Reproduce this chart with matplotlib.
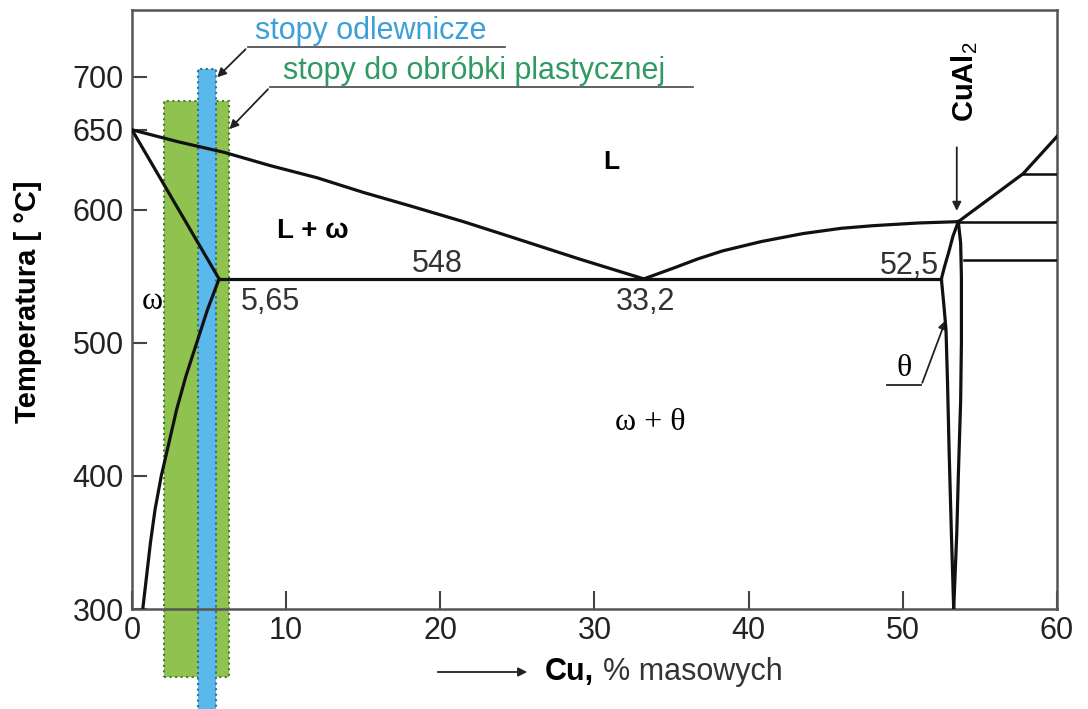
import matplotlib
matplotlib.use("Agg")
import matplotlib.pyplot as plt
from matplotlib.patches import Rectangle

plt.rcParams['font.family'] = ['Liberation Sans', 'DejaVu Sans']
plt.rcParams['mathtext.fontset'] = 'custom'
plt.rcParams['mathtext.rm'] = 'Liberation Sans'
plt.rcParams['mathtext.bf'] = 'Liberation Sans:bold'

# granice faz (Cu % mas., temperatura)
liq_left_x = [0, 3, 6, 9, 12, 15, 18, 21.5, 25, 29, 33.2]
liq_left_t = [660, 651, 643, 633, 624, 613, 603, 591, 578, 563, 548]
liq_right_x = [33.2, 35.1, 36.7, 38.3, 40.8, 43.5, 46.0, 48.1, 51.0, 53.6]
liq_right_t = [548, 556, 563, 569, 576, 582, 586, 588, 590, 591]
solidus_x = [0, 5.65]
solidus_t = [660, 548]
solvus_x = [5.65, 4.9, 4.2, 3.5, 2.9, 2.4, 1.9, 1.5, 1.2, 0.95, 0.7]
solvus_t = [548, 525, 500, 475, 450, 425, 400, 375, 350, 325, 300]
eutectic_x = [5.65, 52.5]
eutectic_t = [548, 548]
theta_left_x = [53.6, 53.25, 53.0, 52.7, 52.5, 52.65, 52.8, 52.9, 53.0, 53.15, 53.3]
theta_left_t = [591, 580, 569, 557, 548, 530, 510, 470, 420, 357, 300]
theta_right_x = [53.6, 53.75, 53.8, 53.8, 53.75, 53.6, 53.5, 53.3]
theta_right_t = [591, 575, 550, 500, 456, 400, 357, 300]
upper_x = [53.6, 57.8, 60]
upper_t = [591, 627, 655]
hlines_t = [627, 591, 562]
hlines_x0 = [57.8, 53.6, 54.0]

# zakresy stopow
green_x = (2.1, 6.3)
green_t = (249, 682)
blue_x = (4.3, 5.45)
blue_t = (190, 706)

yticks = [300, 400, 500, 600, 660, 700]
yticklabels = ['300', '400', '500', '600', '650', '700']
xticks = [0, 10, 20, 30, 40, 50, 60]

fig = plt.figure(figsize=(10.88, 7.09), dpi=100)
ax = fig.add_axes([0.1213, 0.141, 0.8502, 0.8449])
ax.set_xlim(0, 60)
ax.set_ylim(300, 750)

ax.add_patch(Rectangle((green_x[0], green_t[0]), green_x[1] - green_x[0], green_t[1] - green_t[0],
                       facecolor='#8fc24f', edgecolor='#3f7f2f', linestyle=':', lw=1.5,
                       clip_on=False, zorder=1))
ax.add_patch(Rectangle((blue_x[0], blue_t[0]), blue_x[1] - blue_x[0], blue_t[1] - blue_t[0],
                       facecolor='#5ab8ea', edgecolor='#2d6f8f', linestyle=':', lw=1.5,
                       clip_on=False, zorder=2))

lw = 2.3
c = '#111111'
for xs, ts in [(liq_left_x, liq_left_t), (liq_right_x, liq_right_t), (solidus_x, solidus_t),
               (solvus_x, solvus_t), (eutectic_x, eutectic_t), (theta_left_x, theta_left_t),
               (theta_right_x, theta_right_t), (upper_x, upper_t)]:
    ax.plot(xs, ts, color=c, lw=lw, zorder=5, solid_joinstyle='round')
for t, x0 in zip(hlines_t, hlines_x0):
    ax.plot([x0, 60], [t, t], color=c, lw=lw * 0.8, zorder=5)

ax.set_xticks(xticks)
ax.set_yticks(yticks)
ax.set_yticklabels(yticklabels)
ax.tick_params(direction='in', labelsize=22, width=1.5, color='#444444',
               labelcolor='#222222', pad=5)
ax.tick_params(axis='x', length=13)
ax.tick_params(axis='y', length=11, pad=6)
for s in ax.spines.values():
    s.set_linewidth(1.8)
    s.set_color('#555555')

# napisy w polach
ax.text(31.1, 636, 'L', fontsize=19, fontweight='bold', ha='center', va='center')
ax.text(11.7, 584, 'L + ω', fontsize=20, fontweight='bold', ha='center', va='center')
ax.text(19.8, 559, '548', fontsize=22, color='#333333', ha='center', va='center')
ax.text(8.95, 531, '5,65', fontsize=22, color='#333333', ha='center', va='center')
ax.text(33.3, 531, '33,2', fontsize=22, color='#333333', ha='center', va='center')
ax.text(50.45, 558, '52,5', fontsize=22, color='#333333', ha='center', va='center')
ax.text(1.3, 531, 'ω', fontsize=23, family='Liberation Serif', ha='center', va='center')
ax.text(33.6, 440, 'ω + θ', fontsize=23, family='Liberation Serif', ha='center', va='center')
ax.text(50.1, 481, 'θ', fontsize=23, family='Liberation Serif', ha='center', va='center')
ax.text(54.0, 696, 'CuAl$_2$', fontsize=21, fontweight='bold', rotation=90,
        ha='center', va='center')

arrow = dict(arrowstyle='-|>', color='#222222', lw=1.3, mutation_scale=13)
ax.annotate('', xy=(53.5, 597), xytext=(53.5, 649), arrowprops=arrow)
ax.plot([49.0, 51.2], [468, 468], color='#222222', lw=1.3)
ax.annotate('', xy=(52.85, 519), xytext=(51.2, 468), arrowprops=arrow)

# opisy stopow
ax.text(7.98, 734, 'stopy odlewnicze', fontsize=22, color='#3d9fd8', ha='left', va='center')
ax.plot([7.5, 24.2], [722, 722], color='#555555', lw=1.3, clip_on=False)
ax.annotate('', xy=(5.4, 698), xytext=(7.5, 722), arrowprops=arrow, annotation_clip=False)
ax.text(9.79, 704, 'stopy do obróbki plastycznej', fontsize=22, color='#2f9a62',
        ha='left', va='center')
ax.plot([8.95, 36.4], [692, 692], color='#555555', lw=1.3, clip_on=False)
ax.annotate('', xy=(6.2, 659), xytext=(8.95, 692), arrowprops=arrow, annotation_clip=False)

# opisy osi
fig.text(28 / 1088, 1 - 302 / 709, 'Temperatura [ °C]', rotation=90, fontsize=21,
         fontweight='bold', ha='center', va='center')
ax.annotate('', xy=(530, 37), xytext=(435, 37), xycoords='figure pixels',
            textcoords='figure pixels', arrowprops=arrow)
fig.text(545 / 1088, 37 / 709, 'Cu,', fontsize=22, fontweight='bold', ha='left', va='center')
fig.text(603 / 1088, 37 / 709, '% masowych', fontsize=22, color='#333333',
         ha='left', va='center')

fig.savefig('out.png', dpi=100)
